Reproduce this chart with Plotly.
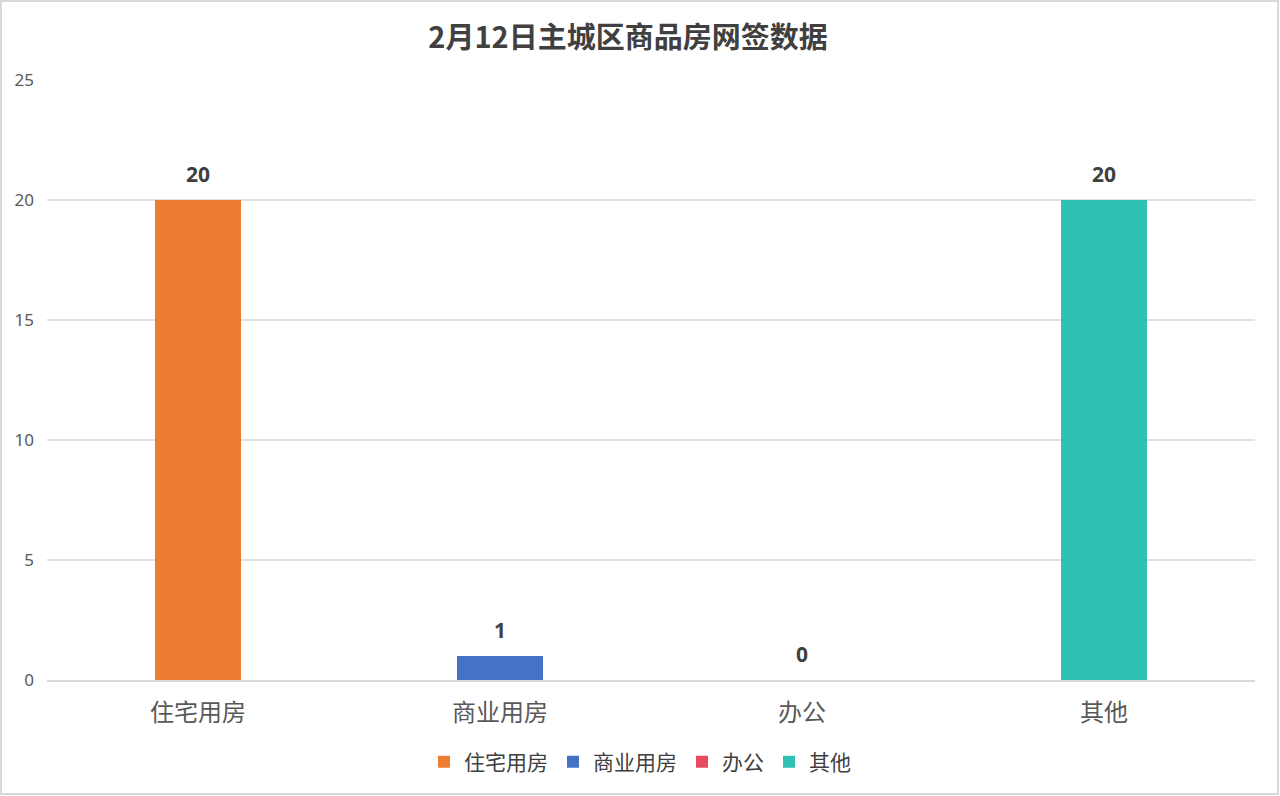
import plotly.graph_objects as go

categories = ["住宅用房", "商业用房", "办公", "其他"]
values = [20, 1, 0, 20]
colors = ["#ED7D31", "#4472C4", "#E84A5F", "#2EC1B4"]
y_ticks = [0, 5, 10, 15, 20, 25]

W, H = 1280, 796
ml, mr, mt, mb = 47, 25, 80, 116

fig = go.Figure()
for cat, val, col in zip(categories, values, colors):
    fig.add_trace(go.Bar(
        x=[cat], y=[val], name=cat, marker_color=col, marker_line_width=0, width=0.288,
        hoverinfo="x+y",
    ))

annotations = [
    dict(x=cat, y=val, xref="x", yref="y", text=f"<b>{val}</b>", showarrow=False,
         yanchor="bottom", yshift=10,
         font=dict(family="Open Sans, Noto Sans", size=21, color="#404040"))
    for cat, val in zip(categories, values)
]

pw = W - ml - mr
ph = H - mt - mb
fig.update_layout(
    width=W, height=H,
    margin=dict(l=ml, r=mr, t=mt, b=mb),
    paper_bgcolor="white", plot_bgcolor="white",
    barmode="overlay", bargap=0,
    title=dict(text="<b>2月12日主城区商品房网签数据</b>", x=628 / W, xanchor="center",
               xref="container", y=1 - 38 / H, yanchor="middle",
               font=dict(family="Noto Sans CJK SC", size=29, color="#404040")),
    xaxis=dict(categoryorder="array", categoryarray=categories,
               tickfont=dict(family="Noto Sans CJK SC", size=24, color="#595959"),
               ticklabelstandoff=10,
               showline=True, linecolor="#D9D9D9", linewidth=2, ticks="", showgrid=False),
    yaxis=dict(range=[0, 25], tickvals=y_ticks, showgrid=True, gridcolor="#E0E0E0", gridwidth=1.5,
               zeroline=False, ticks="", ticklabelstandoff=12,
               tickfont=dict(family="Noto Sans, DejaVu Sans", size=17, color="#595959")),
    legend=dict(orientation="h", x=0.5 - (ml - mr) / 2 / pw, xanchor="center",
                y=-(762 - 680) / ph, yanchor="middle",
                font=dict(family="Noto Sans CJK SC", size=21, color="#404040"),
                itemwidth=30, traceorder="normal", itemclick=False, itemdoubleclick=False),
    showlegend=True,
    annotations=annotations,
    font=dict(family="Noto Sans CJK SC"),
    shapes=[dict(type="rect", xref="paper", yref="paper",
                 x0=-(ml - 1) / pw, x1=1 + (mr - 2) / pw,
                 y0=-(mb - 2) / ph, y1=1 + (mt - 1) / ph,
                 line=dict(color="#D9D9D9", width=2), fillcolor="rgba(0,0,0,0)", layer="below")],
)

fig.write_html("out.html", config={"displayModeBar": False},
               post_script="document.body.style.margin='0';document.body.style.overflow='hidden';")
